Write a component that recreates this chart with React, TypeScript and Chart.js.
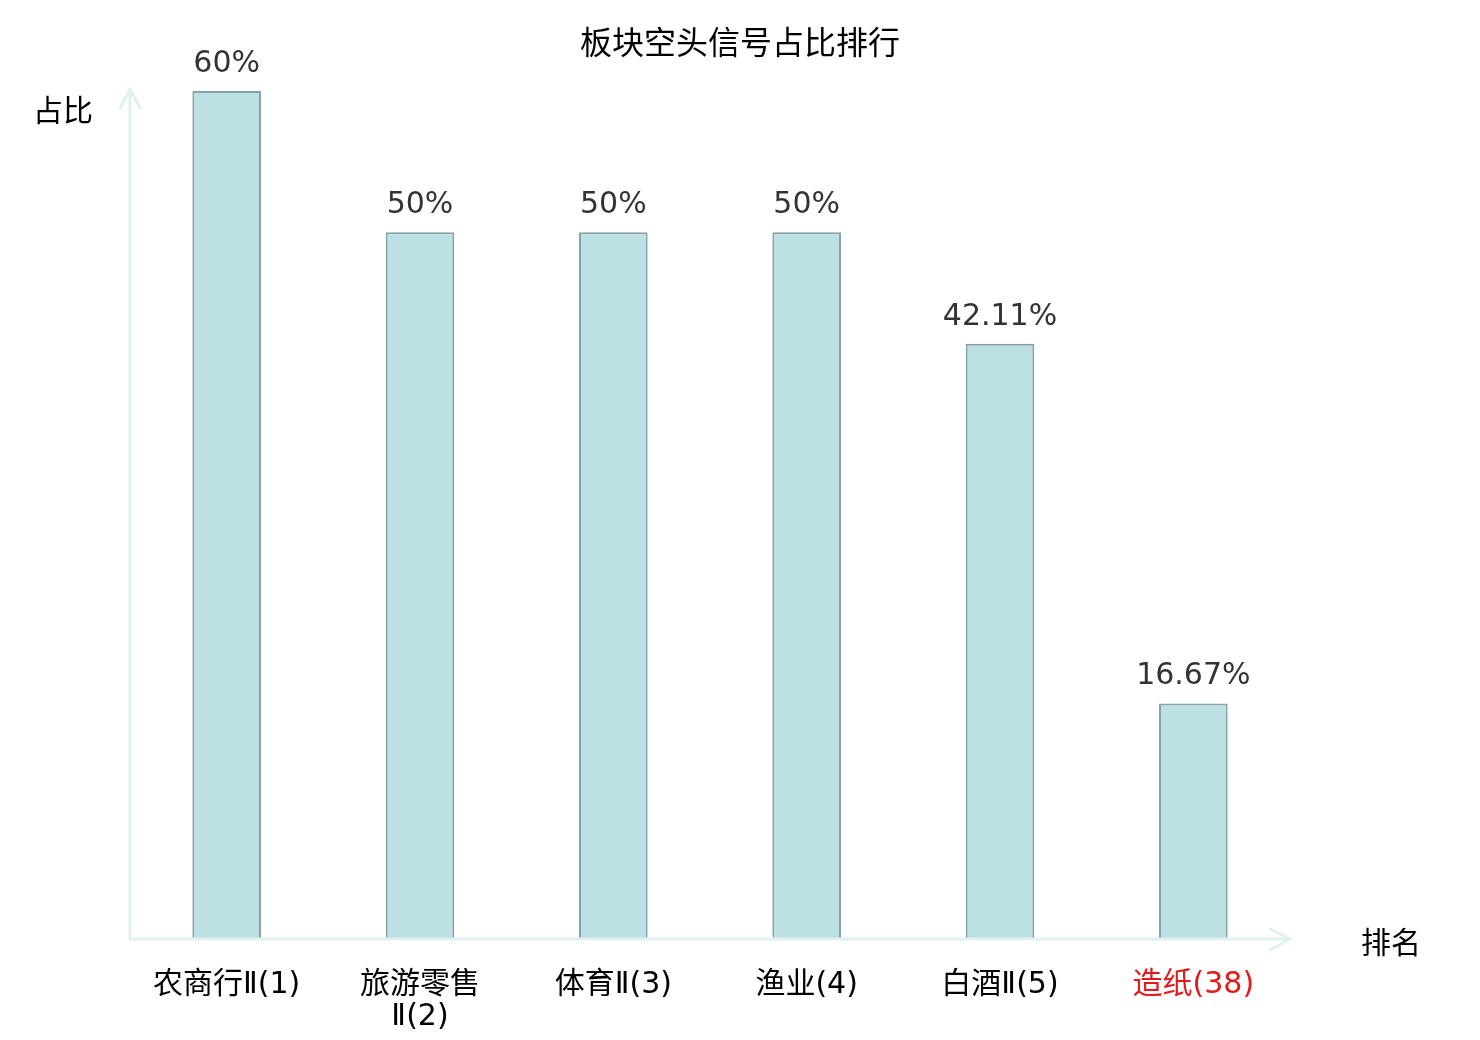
import React, { useEffect, useRef } from "react";
import { Chart, registerables } from "chart.js";

Chart.register(...registerables);

const categories: (string | string[])[] = [
    "农商行Ⅱ(1)",
    ["旅游零售", "Ⅱ(2)"],
    "体育Ⅱ(3)",
    "渔业(4)",
    "白酒Ⅱ(5)",
    "造纸(38)",
];
const shareValues = [60, 50, 50, 50, 42.11, 16.67];
const labelColors = ["#000", "#000", "#000", "#000", "#000", "#e31a1c"];

const chartTitle = "板块空头信号占比排行";
const yAxisName = "占比";
const xAxisName = "排名";

const AXIS_COLOR = "#dff2ef";
const CJK_FONT = "'Noto Sans CJK SC', 'DejaVu Sans', sans-serif";
const NUM_FONT = "'DejaVu Sans', 'Noto Sans CJK SC', sans-serif";

// title, arrows for both axes, axis names and value labels above the bars
const decorPlugin = {
    id: "decor",
    afterDatasetsDraw(chart: any) {
        const { ctx, chartArea, width } = chart;
        const { left, right, top, bottom } = chartArea;
        ctx.save();

        ctx.fillStyle = "#000";
        ctx.font = `32px ${CJK_FONT}`;
        ctx.textAlign = "center";
        ctx.textBaseline = "middle";
        ctx.fillText(chartTitle, width / 2, 42);

        ctx.strokeStyle = AXIS_COLOR;
        ctx.lineWidth = 3;
        ctx.lineCap = "round";
        ctx.lineJoin = "round";
        ctx.beginPath();
        ctx.moveTo(left, bottom);
        ctx.lineTo(left, top - 2);
        ctx.moveTo(left - 10, top + 17);
        ctx.lineTo(left, top - 2);
        ctx.lineTo(left + 10, top + 17);
        ctx.moveTo(left, bottom);
        ctx.lineTo(right, bottom);
        ctx.moveTo(right - 20, bottom - 10);
        ctx.lineTo(right, bottom);
        ctx.lineTo(right - 20, bottom + 11);
        ctx.stroke();

        ctx.fillStyle = "#000";
        ctx.font = `30px ${CJK_FONT}`;
        ctx.textBaseline = "middle";
        ctx.textAlign = "left";
        ctx.fillText(yAxisName, 33, top + 19);
        ctx.fillText(xAxisName, right + 71, bottom + 3);

        const meta = chart.getDatasetMeta(0);
        ctx.fillStyle = "#333";
        ctx.font = `30px ${NUM_FONT}`;
        ctx.textAlign = "center";
        ctx.textBaseline = "alphabetic";
        meta.data.forEach((bar: any, i: number) => {
            ctx.fillText(`${shareValues[i]}%`, bar.x, bar.y - 19);
        });
        ctx.restore();
    },
};

const App = () => {
    const chartRef = useRef<HTMLCanvasElement | null>(null);
    const chartInstance = useRef<Chart | null>(null);

    useEffect(() => {
        document.body.style.margin = "0";
        if (!chartRef.current) return;
        const ctx = chartRef.current.getContext("2d");
        if (!ctx) return;

        if (chartInstance.current) {
            chartInstance.current.destroy();
        }

        chartInstance.current = new Chart(ctx, {
            type: "bar",
            data: {
                labels: categories,
                datasets: [
                    {
                        label: "占比",
                        data: shareValues,
                        backgroundColor: "#bce0e3",
                        borderColor: "#86a3a5",
                        borderWidth: 2,
                        barPercentage: 0.355,
                        categoryPercentage: 1,
                    },
                ],
            },
            options: {
                animation: false,
                responsive: false,
                maintainAspectRatio: false,
                layout: { padding: { left: 130, right: 190, top: 91, bottom: 0 } },
                plugins: {
                    legend: { display: false },
                    tooltip: { enabled: false },
                    title: { display: false },
                },
                scales: {
                    x: {
                        grid: { display: false, drawTicks: false },
                        border: { display: false },
                        afterFit: (scale: any) => {
                            scale.height = 101;
                        },
                        ticks: {
                            color: labelColors,
                            font: { family: NUM_FONT, size: 30, lineHeight: 1.07 },
                            padding: 30,
                            maxRotation: 0,
                            autoSkip: false,
                        },
                    },
                    y: {
                        display: false,
                        min: 0,
                        max: 60,
                    },
                },
            },
            plugins: [decorPlugin],
        });

        return () => {
            if (chartInstance.current) {
                chartInstance.current.destroy();
                chartInstance.current = null;
            }
        };
    }, []);

    return (
        <div style={{ width: 1480, height: 1040, background: "#fff" }}>
            <canvas ref={chartRef} width={1480} height={1040} />
        </div>
    );
};

export default App;
